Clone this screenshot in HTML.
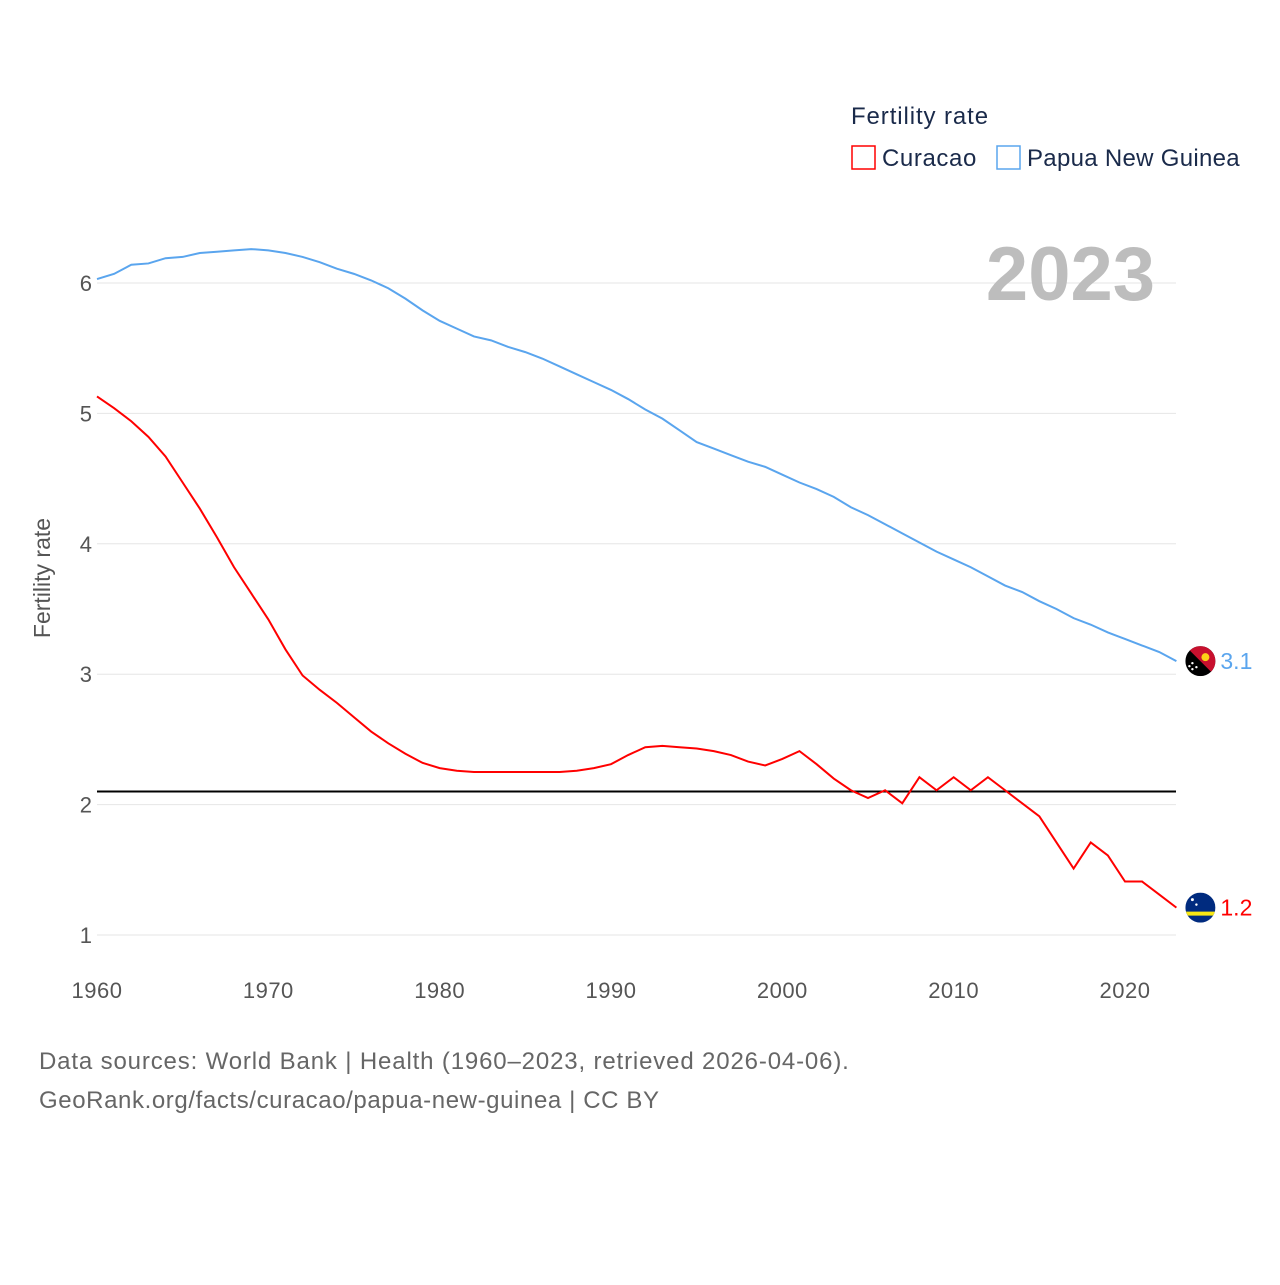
<!DOCTYPE html>
<html><head><meta charset="utf-8"><style>
body{margin:0;background:#fff;font-family:"Liberation Sans",sans-serif}
svg text{font-family:"Liberation Sans",sans-serif}
</style></head><body>
<svg id="chart" width="1280" height="1280" viewBox="0 0 1280 1280" xmlns="http://www.w3.org/2000/svg">
<g id="grid"></g>
<g id="yticks"></g>
<g id="xticks"></g>
<text x="50" y="578" transform="rotate(-90 50 578)" text-anchor="middle" font-size="23" fill="#555">Fertility rate</text>
<text x="1155" y="300" text-anchor="end" font-size="76" font-weight="bold" fill="#bdbdbd">2023</text>
<g id="series"></g>
<g>
<text x="851" y="124" font-size="24" letter-spacing="0.9" fill="#1a2a4a">Fertility rate</text>
<g><rect x="852" y="146" width="23" height="23" fill="none" stroke="#ff0000" stroke-width="1.5"/><text x="882" y="166" font-size="24" letter-spacing="0.6" fill="#1a2a4a">Curacao</text></g>
<g><rect x="997" y="146" width="23" height="23" fill="none" stroke="#5aa5ee" stroke-width="1.5"/><text x="1027" y="166" font-size="24" letter-spacing="0.3" fill="#1a2a4a">Papua New Guinea</text></g>
</g>
<text x="39" y="1069" font-size="24" letter-spacing="0.85" fill="#666">Data sources: World Bank | Health (1960–2023, retrieved 2026-04-06).</text>
<text x="39" y="1108" font-size="24" letter-spacing="0.6" fill="#666">GeoRank.org/facts/curacao/papua-new-guinea | CC BY</text>
</svg>
<script>
const years=[];for(let y=1960;y<=2023;y++)years.push(y);
const pngValues=[6.03,6.07,6.14,6.15,6.19,6.20,6.23,6.24,6.25,6.26,6.25,6.23,6.20,6.16,6.11,6.07,6.02,5.96,5.88,5.79,5.71,5.65,5.59,5.56,5.51,5.47,5.42,5.36,5.30,5.24,5.18,5.11,5.03,4.96,4.87,4.78,4.73,4.68,4.63,4.59,4.53,4.47,4.42,4.36,4.28,4.22,4.15,4.08,4.01,3.94,3.88,3.82,3.75,3.68,3.63,3.56,3.50,3.43,3.38,3.32,3.27,3.22,3.17,3.10];
const curValues=[5.13,5.04,4.94,4.82,4.67,4.47,4.27,4.05,3.82,3.62,3.42,3.19,2.99,2.88,2.78,2.67,2.56,2.47,2.39,2.32,2.28,2.26,2.25,2.25,2.25,2.25,2.25,2.25,2.26,2.28,2.31,2.38,2.44,2.45,2.44,2.43,2.41,2.38,2.33,2.30,2.35,2.41,2.31,2.20,2.11,2.05,2.11,2.01,2.21,2.11,2.21,2.11,2.21,2.11,2.01,1.91,1.71,1.51,1.71,1.61,1.41,1.41,1.31,1.21];
const yTicks=[1,2,3,4,5,6];
const xTicks=[1960,1970,1980,1990,2000,2010,2020];
const refValue=2.1;
const NS="http://www.w3.org/2000/svg";
const X=y=>97+(y-1960)*(1125-97)/60;
const Y=v=>935-(v-1)*130.4;
function mk(t,a,p){const e=document.createElementNS(NS,t);for(const k in a)e.setAttribute(k,a[k]);(p||document.getElementById('chart')).appendChild(e);return e;}
const grid=document.getElementById('grid'),yt=document.getElementById('yticks'),xt=document.getElementById('xticks'),ser=document.getElementById('series');
yTicks.forEach(v=>{
const l=mk('line',{x1:97,x2:1176,y1:Y(v),y2:Y(v),stroke:'#e6e6e6','stroke-width':1},grid);


const t=mk('text',{x:92,y:Y(v)+8,'text-anchor':'end','font-size':22,fill:'#555'},yt);t.textContent=v;


});
xTicks.forEach(v=>{
const t=mk('text',{x:X(v),y:998,'text-anchor':'middle','font-size':22,'letter-spacing':0.5,fill:'#555'},xt);t.textContent=v;


});
const ref=mk('line',{x1:97,x2:1176,y1:Y(refValue),y2:Y(refValue),stroke:'#000','stroke-width':2},ser);


function line(vals,col,name){
const p=mk('polyline',{points:vals.map((v,i)=>X(years[i])+','+Y(v)).join(' '),fill:'none',stroke:col,'stroke-width':2},ser);


}
line(pngValues,'#5aa5ee','line-papua-new-guinea');
line(curValues,'#ff0000','line-curacao');
const xe=X(2023)+24;
const yp=Y(pngValues[pngValues.length-1]);
const fg=mk('g',{},ser);


mk('clipPath',{id:'c1'},fg);
mk('circle',{cx:xe,cy:yp,r:15},document.getElementById('c1'));
const g1=mk('g',{'clip-path':'url(#c1)'},fg);
mk('rect',{x:xe-15,y:yp-15,width:30,height:30,fill:'#000'},g1);
mk('polygon',{points:`${xe-15},${yp-15} ${xe+15},${yp-15} ${xe+15},${yp+15}`,fill:'#c8102e'},g1);
mk('circle',{cx:xe+5,cy:yp-4,r:4,fill:'#fcd116'},g1);
[[-8,2],[-4,6],[-8,8],[-11,5]].forEach(d=>mk('circle',{cx:xe+d[0],cy:yp+d[1],r:1.2,fill:'#fff'},g1));
const tp=mk('text',{x:xe+20,y:yp+8,'font-size':23,fill:'#5aa5ee'},ser);tp.textContent=pngValues[pngValues.length-1].toFixed(1);


const yc=Y(curValues[curValues.length-1]);
const fc=mk('g',{},ser);


mk('clipPath',{id:'c2'},fc);
mk('circle',{cx:xe,cy:yc,r:15},document.getElementById('c2'));
const g2=mk('g',{'clip-path':'url(#c2)'},fc);
mk('rect',{x:xe-15,y:yc-15,width:30,height:30,fill:'#002b7f'},g2);
mk('rect',{x:xe-15,y:yc+4,width:30,height:4,fill:'#f9e814'},g2);
mk('circle',{cx:xe-8,cy:yc-8,r:1.5,fill:'#fff'},g2);
mk('circle',{cx:xe-4,cy:yc-3,r:1.2,fill:'#fff'},g2);
const tc=mk('text',{x:xe+20,y:yc+8,'font-size':23,fill:'#ff0000'},ser);tc.textContent=curValues[curValues.length-1].toFixed(1);


</script>
</body></html>
